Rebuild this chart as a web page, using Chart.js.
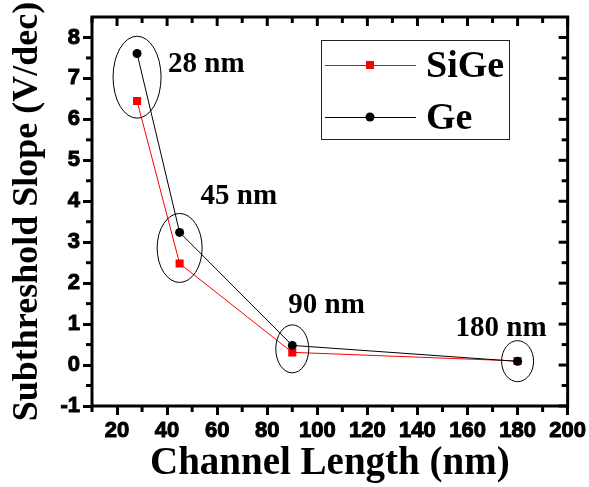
<!DOCTYPE html>
<html>
<head>
<meta charset="utf-8">
<script src="https://cdn.jsdelivr.net/npm/chart.js@4/dist/chart.umd.min.js"></script>
<style>
  html, body { margin: 0; padding: 0; background: #fff; }
  #wrap { width: 589px; height: 487px; }
</style>
</head>
<body>
<div id="wrap"><canvas id="slopeChart" width="589" height="487"></canvas></div>
<script>
// channel lengths (nm)
const channelLength = [28, 45, 90, 180];
const sigeSlope = [6.45, 2.48, 0.31, 0.10];
const geSlope = [7.61, 3.24, 0.48, 0.09];
const nodeLabels = ['28 nm', '45 nm', '90 nm', '180 nm'];

const xTicks = [20, 40, 60, 80, 100, 120, 140, 160, 180, 200];
const xMinor = [10, 30, 50, 70, 90, 110, 130, 150, 170, 190];
const yTicks = [-1, 0, 1, 2, 3, 4, 5, 6, 7, 8];
const yMinor = [-0.5, 0.5, 1.5, 2.5, 3.5, 4.5, 5.5, 6.5, 7.5];

// ellipse radii (px) and label offsets from the Ge point (px)
const ellipseRadii = [[24, 41], [22.5, 34.5], [16.5, 24], [16, 20.5]];
const labelOffsets = [[31, 19], [21, -28], [-4, -32], [-62, -25]];

const serif = '"Liberation Serif", "Times New Roman", serif';
const sans = '"Liberation Sans", Arial, sans-serif';

const toPoints = ys => channelLength.map((x, i) => ({ x: x, y: ys[i] }));

// frame, minor ticks and mirrored ticks on top / right
const framePlugin = {
  id: 'frame',
  afterDraw(chart) {
    const { ctx, chartArea: a } = chart;
    const xs = chart.scales.x, ys = chart.scales.y;
    ctx.save();
    ctx.strokeStyle = '#000';
    ctx.lineWidth = 3;
    ctx.strokeRect(a.left, a.top, a.right - a.left, a.bottom - a.top);
    const tick = (x1, y1, x2, y2) => {
      ctx.beginPath(); ctx.moveTo(x1, y1); ctx.lineTo(x2, y2); ctx.stroke();
    };
    xMinor.forEach(v => {
      const px = xs.getPixelForValue(v);
      tick(px, a.bottom, px, a.bottom + 6);
      tick(px, a.top, px, a.top + 6);
    });
    xTicks.forEach(v => {
      const px = xs.getPixelForValue(v);
      tick(px, a.top, px, a.top + 9);
    });
    yMinor.forEach(v => {
      const py = ys.getPixelForValue(v);
      tick(a.left - 6, py, a.left, py);
      tick(a.right - 6, py, a.right, py);
    });
    yTicks.forEach(v => {
      const py = ys.getPixelForValue(v);
      tick(a.right - 9, py, a.right, py);
    });
    ctx.restore();
  }
};

// ellipses around each node and their labels, plus the legend box
const nodePlugin = {
  id: 'nodes',
  afterDatasetsDraw(chart) {
    const { ctx } = chart;
    const xs = chart.scales.x, ys = chart.scales.y;
    ctx.save();
    ctx.strokeStyle = '#000';
    ctx.lineWidth = 1;
    channelLength.forEach((len, i) => {
      const px = xs.getPixelForValue(len);
      const pGe = ys.getPixelForValue(geSlope[i]);
      const pSi = ys.getPixelForValue(sigeSlope[i]);
      const cy = (pGe + pSi) / 2;
      ctx.beginPath();
      ctx.ellipse(px, cy, ellipseRadii[i][0], ellipseRadii[i][1], 0, 0, Math.PI * 2);
      ctx.stroke();
      ctx.fillStyle = '#000';
      ctx.font = 'bold 29px ' + serif;
      ctx.textAlign = 'left';
      ctx.textBaseline = 'alphabetic';
      ctx.fillText(nodeLabels[i], px + labelOffsets[i][0], pGe + labelOffsets[i][1]);
    });
    ctx.restore();
  },
  afterDraw(chart) {
    const { ctx } = chart;
    const box = { x: 321, y: 40, w: 188, h: 99 };
    ctx.save();
    ctx.fillStyle = '#fff';
    ctx.fillRect(box.x, box.y, box.w, box.h);
    ctx.strokeStyle = '#222';
    ctx.lineWidth = 1;
    ctx.strokeRect(box.x + 0.5, box.y + 0.5, box.w, box.h);
    const rows = [chart.data.datasets[1], chart.data.datasets[0]];
    rows.forEach((ds, i) => {
      const y = box.y + 25 + i * 52;
      ctx.strokeStyle = ds.borderColor;
      ctx.lineWidth = 1;
      ctx.beginPath(); ctx.moveTo(325, y + 0.5); ctx.lineTo(416, y + 0.5); ctx.stroke();
      ctx.fillStyle = ds.pointBackgroundColor;
      if (ds.pointStyle === 'rect') {
        ctx.fillRect(366, y - 4, 8, 8);
      } else {
        ctx.beginPath(); ctx.arc(370, y, 4.5, 0, Math.PI * 2); ctx.fill();
      }
      ctx.fillStyle = '#000';
      ctx.font = 'bold 38px ' + serif;
      ctx.textBaseline = 'middle';
      ctx.fillText(ds.label, 426, y + 2);
    });
    ctx.restore();
  }
};

const tickFont = { family: sans, size: 22, weight: 'bold' };

new Chart(document.getElementById('slopeChart'), {
  type: 'line',
  data: {
    datasets: [
      {
        label: 'Ge',
        data: toPoints(geSlope),
        borderColor: '#000000',
        borderWidth: 1,
        pointStyle: 'circle',
        pointRadius: 4.5,
        pointBackgroundColor: '#000000',
        pointBorderWidth: 0,
        order: 0
      },
      {
        label: 'SiGe',
        data: toPoints(sigeSlope),
        borderColor: '#ff0000',
        borderWidth: 1,
        pointStyle: 'rect',
        pointRadius: 5.7,
        pointBackgroundColor: '#ff0000',
        pointBorderWidth: 0,
        order: 1
      }
    ]
  },
  options: {
    responsive: false,
    animation: false,
    layout: { padding: { top: 17, right: 21, left: 0, bottom: 0 } },
    plugins: { legend: { display: false }, tooltip: { enabled: false } },
    scales: {
      x: {
        type: 'linear',
        min: 10,
        max: 200,
        afterBuildTicks: s => { s.ticks = xTicks.map(v => ({ value: v })); },
        afterFit: s => { s.height = 81; },
        grid: { drawOnChartArea: false, tickLength: 9, lineWidth: 3, tickWidth: 3, color: '#000' },
        border: { display: false },
        ticks: { color: '#000', padding: 3, maxRotation: 0, font: tickFont,
                 textStrokeColor: '#000', textStrokeWidth: 1 },
        title: { display: true, text: 'Channel Length (nm)', color: '#000', padding: { top: 0, bottom: 0 },
                 font: { family: serif, size: 39, weight: 'bold' } }
      },
      y: {
        type: 'linear',
        min: -1,
        max: 8.5,
        afterBuildTicks: s => { s.ticks = yTicks.map(v => ({ value: v })); },
        afterFit: s => { s.width = 92; },
        grid: { drawOnChartArea: false, tickLength: 9, lineWidth: 3, tickWidth: 3, color: '#000' },
        border: { display: false },
        ticks: { color: '#000', padding: 3, font: tickFont,
                 textStrokeColor: '#000', textStrokeWidth: 1 },
        title: { display: true, text: 'Subthreshold Slope (V/dec)', color: '#000', padding: { top: 6, bottom: 0 },
                 font: { family: serif, size: 36, weight: 'bold' } }
      }
    }
  },
  plugins: [framePlugin, nodePlugin]
});
</script>
</body>
</html>
